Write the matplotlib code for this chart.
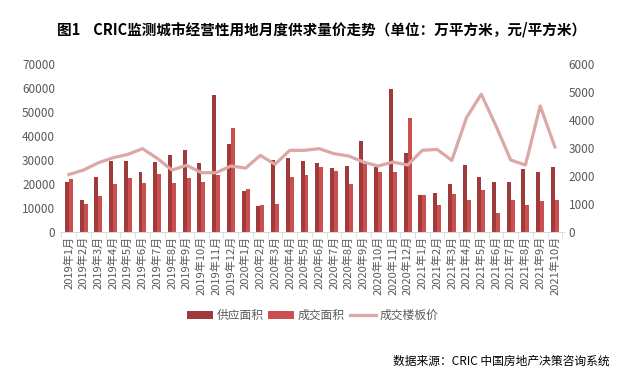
import matplotlib
matplotlib.use("Agg")
import matplotlib.pyplot as plt
import numpy as np

plt.rcParams['font.family'] = ['Noto Sans CJK SC', 'DejaVu Sans']

months = ([f"2019年{m}月" for m in range(1, 13)]
          + [f"2020年{m}月" for m in range(1, 13)]
          + [f"2021年{m}月" for m in range(1, 11)])

supply = [20600, 13500, 22900, 29500, 29400, 24800, 29000, 31900, 34000, 28600, 57000, 36500,
          16900, 10700, 29800, 30800, 29400, 28600, 26500, 27300, 37800, 27200, 59500, 32800,
          15200, 16400, 19800, 27700, 22700, 21000, 20600, 26100, 24800, 26900]
deal = [21900, 11800, 14900, 19800, 22300, 20200, 24000, 20200, 22300, 21000, 23700, 43200,
        17700, 11100, 11800, 22900, 23600, 26900, 25200, 19800, 28200, 24800, 24800, 47400,
        15200, 11000, 15600, 13100, 17300, 7700, 13100, 11400, 12700, 13100]
price = [2050, 2210, 2470, 2650, 2770, 2975, 2630, 2210, 2380, 2115, 2115, 2355,
         2280, 2735, 2415, 2915, 2916, 2975, 2796, 2713, 2497, 2354, 2497, 2390,
         2916, 2950, 2557, 4087, 4923, 3788, 2569, 2390, 4505, 3035]

c_supply = "#A03B3B"
c_deal = "#C9504E"
c_price = "#DBA8A7"
c_text = "#595959"

fig = plt.figure(figsize=(6.25, 3.77), dpi=100)
ax = fig.add_axes([0.096, 0.385, 0.806, 0.445])
x = np.arange(len(months))
w = 0.27
ax.bar(x - w / 2, supply, w, color=c_supply, label="供应面积")
ax.bar(x + w / 2, deal, w, color=c_deal, label="成交面积")
ax.set_ylim(0, 70000)
ax.set_yticks(range(0, 70001, 10000))
ax.set_xlim(-0.6, len(months) - 0.4)

ax2 = ax.twinx()
ax2.plot(x, price, color=c_price, lw=2.3, label="成交楼板价")
ax2.set_ylim(0, 6000)
ax2.set_yticks(range(0, 6001, 1000))

for a in (ax, ax2):
    for s in a.spines.values():
        s.set_visible(False)
    a.tick_params(axis='y', length=0, labelsize=8.5, labelcolor=c_text)
ax.spines['bottom'].set_visible(True)
ax.spines['bottom'].set_color("#D9D9D9")

ax.set_xticks(x)
ax.set_xticklabels(months, rotation=90, fontsize=8, color=c_text)
ax.tick_params(axis='x', length=0, pad=3)
ax.set_xticks(np.arange(-0.5, len(months)), minor=True)
ax.tick_params(axis='x', which='minor', length=4, color="#D9D9D9")

h1, l1 = ax.get_legend_handles_labels()
h2, l2 = ax2.get_legend_handles_labels()
fig.legend(h1 + h2, l1 + l2, loc='center', bbox_to_anchor=(0.5, 0.163), ncol=3,
           frameon=False, fontsize=8.5, labelcolor=c_text, handlelength=2.2,
           handletextpad=0.3, columnspacing=0.4)

fig.text(0.091, 0.922, "图1    CRIC监测城市经营性用地月度供求量价走势（单位：万平方米，元/平方米）",
         fontsize=10.5, fontweight='bold', va='center')
fig.text(0.976, 0.042, "数据来源：CRIC 中国房地产决策咨询系统", fontsize=8.5,
         ha='right', va='center')

fig.savefig("out.png", dpi=100)
